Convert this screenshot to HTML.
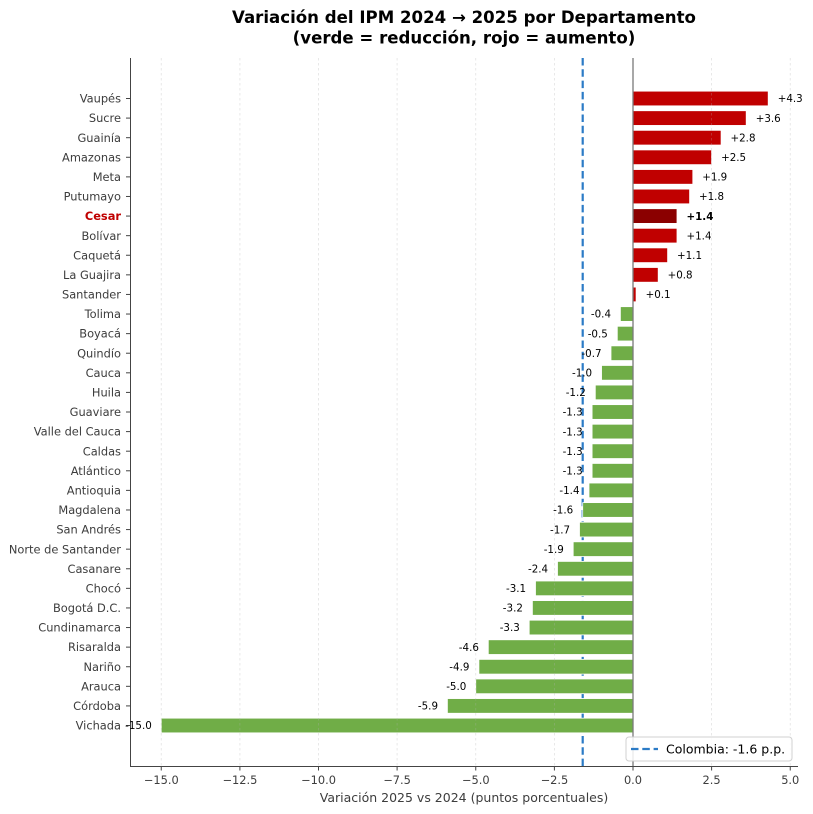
<!DOCTYPE html>
<html><head><meta charset="utf-8"><style>
html,body{margin:0;padding:0;background:#fff;}
svg{display:block;font-family:"DejaVu Sans","Liberation Sans",sans-serif;}
</style></head><body>
<svg width="813" height="814" viewBox="0 0 813 814" xmlns="http://www.w3.org/2000/svg">
<rect width="813" height="814" fill="#fff"/>
<!-- title -->
<text x="464" y="23" font-size="16.6" font-weight="bold" text-anchor="middle" fill="#000">Variación del IPM 2024 → 2025 por Departamento</text>
<text x="464" y="43.5" font-size="16.6" font-weight="bold" text-anchor="middle" fill="#000">(verde = reducción, rojo = aumento)</text>

<!-- Colombia line (behind bars) -->
<line x1="582.7" y1="58" x2="582.7" y2="766" stroke="#2b7bc6" stroke-width="2.2" stroke-dasharray="7.5 3.8"/>

<!-- bars -->
<g stroke="#fff" stroke-width="0.8">
<rect x="633" y="91.15" width="135.2" height="14.7" fill="#C00000"/>
<rect x="633" y="110.74" width="113.2" height="14.7" fill="#C00000"/>
<rect x="633" y="130.34" width="88.1" height="14.7" fill="#C00000"/>
<rect x="633" y="149.93" width="78.6" height="14.7" fill="#C00000"/>
<rect x="633" y="169.53" width="59.8" height="14.7" fill="#C00000"/>
<rect x="633" y="189.12" width="56.6" height="14.7" fill="#C00000"/>
<rect x="633" y="208.71" width="44.0" height="14.7" fill="#8B0000"/>
<rect x="633" y="228.31" width="44.0" height="14.7" fill="#C00000"/>
<rect x="633" y="247.9" width="34.6" height="14.7" fill="#C00000"/>
<rect x="633" y="267.5" width="25.2" height="14.7" fill="#C00000"/>
<rect x="633" y="287.09" width="3.1" height="14.7" fill="#C00000"/>
<rect x="620.4" y="306.68" width="12.6" height="14.7" fill="#70AD47"/>
<rect x="617.3" y="326.28" width="15.7" height="14.7" fill="#70AD47"/>
<rect x="611" y="345.87" width="22.0" height="14.7" fill="#70AD47"/>
<rect x="601.55" y="365.47" width="31.45" height="14.7" fill="#70AD47"/>
<rect x="595.3" y="385.06" width="37.7" height="14.7" fill="#70AD47"/>
<rect x="592.1" y="404.65" width="40.9" height="14.7" fill="#70AD47"/>
<rect x="592.1" y="424.25" width="40.9" height="14.7" fill="#70AD47"/>
<rect x="592.1" y="443.84" width="40.9" height="14.7" fill="#70AD47"/>
<rect x="592.1" y="463.44" width="40.9" height="14.7" fill="#70AD47"/>
<rect x="589" y="483.03" width="44.0" height="14.7" fill="#70AD47"/>
<rect x="582.7" y="502.62" width="50.3" height="14.7" fill="#70AD47"/>
<rect x="579.5" y="522.22" width="53.5" height="14.7" fill="#70AD47"/>
<rect x="573.2" y="541.81" width="59.8" height="14.7" fill="#70AD47"/>
<rect x="557.5" y="561.41" width="75.5" height="14.7" fill="#70AD47"/>
<rect x="535.5" y="581.0" width="97.5" height="14.7" fill="#70AD47"/>
<rect x="532.4" y="600.59" width="100.6" height="14.7" fill="#70AD47"/>
<rect x="529.2" y="620.19" width="103.8" height="14.7" fill="#70AD47"/>
<rect x="488.3" y="639.78" width="144.7" height="14.7" fill="#70AD47"/>
<rect x="478.9" y="659.38" width="154.1" height="14.7" fill="#70AD47"/>
<rect x="475.75" y="678.97" width="157.25" height="14.7" fill="#70AD47"/>
<rect x="447.4" y="698.56" width="185.6" height="14.7" fill="#70AD47"/>
<rect x="161.25" y="718.16" width="471.75" height="14.7" fill="#70AD47"/>
</g>

<!-- grid -->
<g stroke="#b0b0b0" stroke-width="0.8" stroke-dasharray="2.5 2.5" opacity="0.35">
<line x1="161.25" y1="58" x2="161.25" y2="766"/>
<line x1="239.9" y1="58" x2="239.9" y2="766"/>
<line x1="318.5" y1="58" x2="318.5" y2="766"/>
<line x1="397.1" y1="58" x2="397.1" y2="766"/>
<line x1="475.75" y1="58" x2="475.75" y2="766"/>
<line x1="554.4" y1="58" x2="554.4" y2="766"/>
<line x1="711.6" y1="58" x2="711.6" y2="766"/>
<line x1="790.25" y1="58" x2="790.25" y2="766"/>
</g>

<!-- zero line -->
<line x1="633" y1="58" x2="633" y2="766" stroke="#7a7a7a" stroke-width="1.3"/>

<!-- spines -->
<line x1="130.5" y1="58" x2="130.5" y2="766.5" stroke="#444" stroke-width="1"/>
<line x1="130" y1="766.5" x2="798" y2="766.5" stroke="#444" stroke-width="1"/>

<!-- y ticks -->
<g stroke="#444" stroke-width="1">
<line x1="126" y1="98.5" x2="130" y2="98.5"/>
<line x1="126" y1="118.09" x2="130" y2="118.09"/>
<line x1="126" y1="137.69" x2="130" y2="137.69"/>
<line x1="126" y1="157.28" x2="130" y2="157.28"/>
<line x1="126" y1="176.88" x2="130" y2="176.88"/>
<line x1="126" y1="196.47" x2="130" y2="196.47"/>
<line x1="126" y1="216.06" x2="130" y2="216.06"/>
<line x1="126" y1="235.66" x2="130" y2="235.66"/>
<line x1="126" y1="255.25" x2="130" y2="255.25"/>
<line x1="126" y1="274.85" x2="130" y2="274.85"/>
<line x1="126" y1="294.44" x2="130" y2="294.44"/>
<line x1="126" y1="314.03" x2="130" y2="314.03"/>
<line x1="126" y1="333.63" x2="130" y2="333.63"/>
<line x1="126" y1="353.22" x2="130" y2="353.22"/>
<line x1="126" y1="372.82" x2="130" y2="372.82"/>
<line x1="126" y1="392.41" x2="130" y2="392.41"/>
<line x1="126" y1="412.0" x2="130" y2="412.0"/>
<line x1="126" y1="431.6" x2="130" y2="431.6"/>
<line x1="126" y1="451.19" x2="130" y2="451.19"/>
<line x1="126" y1="470.79" x2="130" y2="470.79"/>
<line x1="126" y1="490.38" x2="130" y2="490.38"/>
<line x1="126" y1="509.97" x2="130" y2="509.97"/>
<line x1="126" y1="529.57" x2="130" y2="529.57"/>
<line x1="126" y1="549.16" x2="130" y2="549.16"/>
<line x1="126" y1="568.76" x2="130" y2="568.76"/>
<line x1="126" y1="588.35" x2="130" y2="588.35"/>
<line x1="126" y1="607.94" x2="130" y2="607.94"/>
<line x1="126" y1="627.54" x2="130" y2="627.54"/>
<line x1="126" y1="647.13" x2="130" y2="647.13"/>
<line x1="126" y1="666.73" x2="130" y2="666.73"/>
<line x1="126" y1="686.32" x2="130" y2="686.32"/>
<line x1="126" y1="705.91" x2="130" y2="705.91"/>
<line x1="126" y1="725.51" x2="130" y2="725.51"/>
</g>

<!-- y tick labels -->
<g font-size="11.4" fill="#3d3d3d" text-anchor="end">
<text x="121" y="102.6">Vaupés</text>
<text x="121" y="122.2">Sucre</text>
<text x="121" y="141.8">Guainía</text>
<text x="121" y="161.4">Amazonas</text>
<text x="121" y="181.0">Meta</text>
<text x="121" y="200.6">Putumayo</text>
<text x="121" y="220.2" font-weight="bold" fill="#C00000">Cesar</text>
<text x="121" y="239.8">Bolívar</text>
<text x="121" y="259.4">Caquetá</text>
<text x="121" y="279.0">La Guajira</text>
<text x="121" y="298.5">Santander</text>
<text x="121" y="318.1">Tolima</text>
<text x="121" y="337.7">Boyacá</text>
<text x="121" y="357.3">Quindío</text>
<text x="121" y="376.9">Cauca</text>
<text x="121" y="396.5">Huila</text>
<text x="121" y="416.1">Guaviare</text>
<text x="121" y="435.7">Valle del Cauca</text>
<text x="121" y="455.3">Caldas</text>
<text x="121" y="474.9">Atlántico</text>
<text x="121" y="494.5">Antioquia</text>
<text x="121" y="514.1">Magdalena</text>
<text x="121" y="533.7">San Andrés</text>
<text x="121" y="553.3">Norte de Santander</text>
<text x="121" y="572.9">Casanare</text>
<text x="121" y="592.4">Chocó</text>
<text x="121" y="612.0">Bogotá D.C.</text>
<text x="121" y="631.6">Cundinamarca</text>
<text x="121" y="651.2">Risaralda</text>
<text x="121" y="670.8">Nariño</text>
<text x="121" y="690.4">Arauca</text>
<text x="121" y="710.0">Córdoba</text>
<text x="121" y="729.6">Vichada</text>
</g>

<!-- bar value labels -->
<g font-size="10.3" fill="#000">
<text x="777.7" y="102.2">+4.3</text>
<text x="755.7" y="121.8">+3.6</text>
<text x="730.5" y="141.4">+2.8</text>
<text x="721.1" y="161.0">+2.5</text>
<text x="702.2" y="180.6">+1.9</text>
<text x="699.0" y="200.2">+1.8</text>
<text x="686.5" y="219.8" font-weight="bold">+1.4</text>
<text x="686.5" y="239.4">+1.4</text>
<text x="677.0" y="259.0">+1.1</text>
<text x="667.6" y="278.6">+0.8</text>
<text x="645.6" y="298.1">+0.1</text>
</g>
<g font-size="10.3" fill="#000" text-anchor="end">
<text x="611.0" y="317.7">-0.4</text>
<text x="607.8" y="337.3">-0.5</text>
<text x="601.55" y="356.9">-0.7</text>
<text x="592.1" y="376.5">-1.0</text>
<text x="585.8" y="396.1">-1.2</text>
<text x="582.7" y="415.7">-1.3</text>
<text x="582.7" y="435.3">-1.3</text>
<text x="582.7" y="454.9">-1.3</text>
<text x="582.7" y="474.5">-1.3</text>
<text x="579.5" y="494.1">-1.4</text>
<text x="573.2" y="513.7">-1.6</text>
<text x="570.1" y="533.3">-1.7</text>
<text x="563.8" y="552.9">-1.9</text>
<text x="548.1" y="572.5">-2.4</text>
<text x="526.1" y="592.0">-3.1</text>
<text x="522.9" y="611.6">-3.2</text>
<text x="519.8" y="631.2">-3.3</text>
<text x="478.9" y="650.8">-4.6</text>
<text x="469.4" y="670.4">-4.9</text>
<text x="466.3" y="690.0">-5.0</text>
<text x="438.0" y="709.6">-5.9</text>
<text x="151.8" y="729.2">-15.0</text>
</g>

<!-- x ticks -->
<g stroke="#444" stroke-width="1">
<line x1="161.25" y1="766" x2="161.25" y2="770.5"/>
<line x1="239.9" y1="766" x2="239.9" y2="770.5"/>
<line x1="318.5" y1="766" x2="318.5" y2="770.5"/>
<line x1="397.1" y1="766" x2="397.1" y2="770.5"/>
<line x1="475.75" y1="766" x2="475.75" y2="770.5"/>
<line x1="554.4" y1="766" x2="554.4" y2="770.5"/>
<line x1="633" y1="766" x2="633" y2="770.5"/>
<line x1="711.6" y1="766" x2="711.6" y2="770.5"/>
<line x1="790.25" y1="766" x2="790.25" y2="770.5"/>
</g>
<g font-size="11.4" fill="#3d3d3d" text-anchor="middle">
<text x="161.25" y="784">−15.0</text>
<text x="239.9" y="784">−12.5</text>
<text x="318.5" y="784">−10.0</text>
<text x="397.1" y="784">−7.5</text>
<text x="475.75" y="784">−5.0</text>
<text x="554.4" y="784">−2.5</text>
<text x="633" y="784">0.0</text>
<text x="711.6" y="784">2.5</text>
<text x="790.25" y="784">5.0</text>
</g>
<text x="464" y="802" font-size="12.5" fill="#3d3d3d" text-anchor="middle">Variación 2025 vs 2024 (puntos porcentuales)</text>

<!-- legend -->
<rect x="626" y="737" width="166" height="24" rx="3" ry="3" fill="#fff" fill-opacity="0.85" stroke="#d0d0d0" stroke-width="1"/>
<line x1="631" y1="749" x2="658" y2="749" stroke="#2b7bc6" stroke-width="2.2" stroke-dasharray="7.5 3.8"/>
<text x="666" y="753.5" font-size="12.5" fill="#000">Colombia: -1.6 p.p.</text>
</svg>
</body></html>
